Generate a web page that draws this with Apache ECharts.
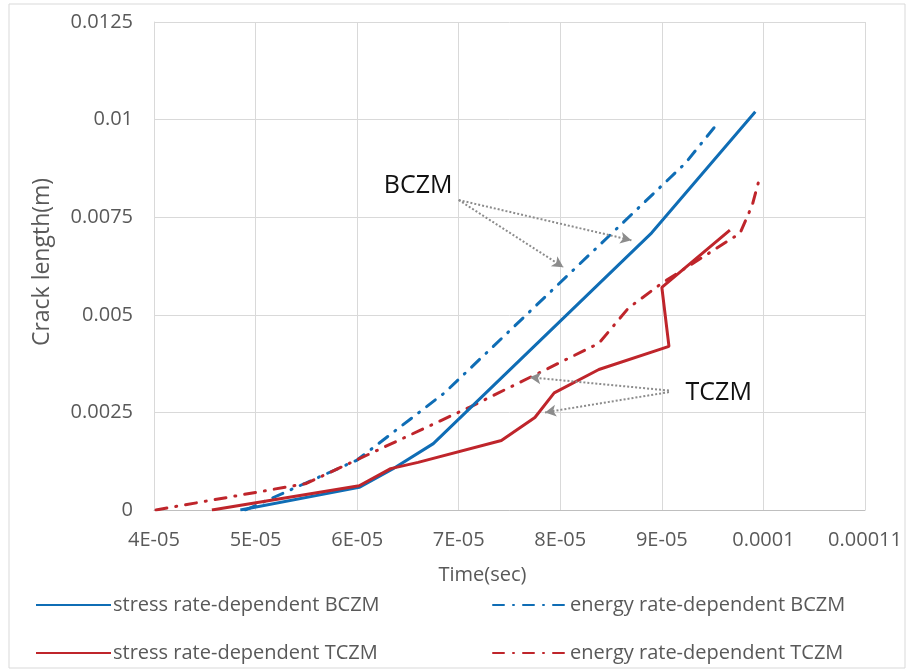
<!DOCTYPE html>
<html>
<head>
<meta charset="utf-8">
<script src="https://cdn.jsdelivr.net/npm/echarts@6/dist/echarts.min.js"></script>
<style>
  html, body { margin: 0; padding: 0; background: #fff; }
  #myChart { width: 912px; height: 672px; }
</style>
</head>
<body>
<div id="myChart"></div>
<script>
// x in seconds, y in metres
let stressBCZM = [[4.85e-5, 0], [6.02e-5, 0.00058], [6.35e-5, 0.00105], [6.75e-5, 0.0017], [8.9e-5, 0.0071], [9.92e-5, 0.0102]];
let energyBCZM = [[4.9e-5, 0], [6.0e-5, 0.00128], [6.86e-5, 0.003], [9.23e-5, 0.00888], [9.56e-5, 0.00994]];
let stressTCZM = [[4.57e-5, 0], [6.02e-5, 0.00062], [6.33e-5, 0.00106], [6.6e-5, 0.00122], [7.42e-5, 0.00178], [7.75e-5, 0.00237],
  [7.94e-5, 0.003], [8.38e-5, 0.0036], [9.07e-5, 0.00419], [9.0e-5, 0.0057], [9.67e-5, 0.00717]];
let energyTCZM = [[4.02e-5, 0], [5.5e-5, 0.00068], [7.12e-5, 0.00265], [8.38e-5, 0.00427], [8.67e-5, 0.00517], [9.0e-5, 0.00581],
  [9.77e-5, 0.00709], [9.89e-5, 0.00781], [9.97e-5, 0.00858]];

let xTickLabels = ['4E-05', '5E-05', '6E-05', '7E-05', '8E-05', '9E-05', '0.0001', '0.00011'];
let yTickLabels = ['0', '0.0025', '0.005', '0.0075', '0.01', '0.0125'];

// annotation arrows: [from, to]
let bczmArrows = [[[7.0e-5, 0.00794], [8.7e-5, 0.00691]], [[7.0e-5, 0.00794], [8.03e-5, 0.00622]]];
let tczmArrows = [[[9.07e-5, 0.00306], [7.7e-5, 0.0034]], [[9.07e-5, 0.00302], [7.85e-5, 0.0025]]];
let noteText = [['BCZM', 6.6e-5, 0.0083], ['TCZM', 9.56e-5, 0.00301]];

let blue = '#0F6DB5', red = '#BF252B';
let txt = '#595959';
let fontFam = '"Open Sans", "Noto Sans", sans-serif';
let dashDot = [11, 9, 1, 9];

let chart = echarts.init(document.getElementById('myChart'));

let arrowLines = bczmArrows.concat(tczmArrows).map(a => [{ coord: a[0] }, { coord: a[1] }]);

// one legend per entry so the 2x2 layout is exact
function legendAt(name, left, top) {
  return {
    left: left, top: top, padding: 0, itemWidth: 75, itemHeight: 14, itemGap: 0,
    itemStyle: { opacity: 0 },
    textStyle: { color: txt, fontSize: 20, fontFamily: fontFam, padding: [0, 0, 0, -3] },
    data: [name]
  };
}

let option = {
  animation: false,
  backgroundColor: '#fff',
  textStyle: { fontFamily: fontFam },
  graphic: [{
    type: 'rect', shape: { x: 9, y: 4, width: 896, height: 664 },
    style: { fill: 'none', stroke: '#D9D9D9', lineWidth: 1 }, silent: true
  }],
  grid: { left: 154, right: 47, top: 22, bottom: 162 },
  xAxis: {
    type: 'value', min: 4e-5, max: 11e-5, interval: 1e-5,
    name: 'Time(sec)', nameLocation: 'middle', nameGap: 55,
    nameTextStyle: { color: txt, fontSize: 20, fontFamily: fontFam, padding: [0, 54, 0, 0] },
    axisLine: { show: true, lineStyle: { color: '#BFBFBF' } },
    axisTick: { show: false },
    splitLine: { show: true, lineStyle: { color: '#D9D9D9' } },
    axisLabel: {
      color: txt, fontSize: 20, margin: 20,
      formatter: v => xTickLabels[Math.round((v - 4e-5) / 1e-5)]
    }
  },
  yAxis: {
    type: 'value', min: 0, max: 0.0125, interval: 0.0025,
    name: 'Crack length(m)', nameLocation: 'middle', nameGap: 100, nameRotate: 90,
    nameTextStyle: { color: txt, fontSize: 23, fontFamily: fontFam, padding: [0, 0, 0, 8] },
    axisLine: { show: true, lineStyle: { color: '#D9D9D9' } },
    axisTick: { show: false },
    splitLine: { show: true, lineStyle: { color: '#D9D9D9' } },
    axisLabel: {
      color: txt, fontSize: 20, margin: 21,
      formatter: v => yTickLabels[Math.round(v / 0.0025)]
    }
  },
  legend: [
    legendAt('stress rate-dependent BCZM', 35, 595),
    legendAt('stress rate-dependent TCZM', 35, 643),
    legendAt('energy rate-dependent BCZM', 492, 595),
    legendAt('energy rate-dependent TCZM', 492, 643)
  ],
  series: [{
    name: 'stress rate-dependent BCZM', type: 'line', data: stressBCZM,
    symbol: 'none', lineStyle: { color: blue, width: 3 }, itemStyle: { color: blue }, z: 3,
    markLine: {
      silent: true, symbol: ['none', 'arrow'], symbolSize: [9, 11],
      lineStyle: { color: '#8C8C8C', width: 2, type: [2, 2] },
      label: { show: false }, data: arrowLines
    },
    markPoint: {
      silent: true,
      data: noteText.map(t => ({
        name: t[0], coord: [t[1], t[2]], symbol: 'rect', symbolSize: 1,
        itemStyle: { color: 'rgba(0,0,0,0)' },
        label: { show: true, position: 'inside', formatter: '{b}', color: '#111', fontSize: 25, fontFamily: fontFam }
      }))
    }
  }, {
    name: 'energy rate-dependent BCZM', type: 'line', data: energyBCZM,
    symbol: 'none', lineStyle: { color: blue, width: 3, type: dashDot, cap: 'round' }, itemStyle: { color: blue }, z: 2
  }, {
    name: 'stress rate-dependent TCZM', type: 'line', data: stressTCZM,
    symbol: 'none', lineStyle: { color: red, width: 3 }, itemStyle: { color: red }, z: 4
  }, {
    name: 'energy rate-dependent TCZM', type: 'line', data: energyTCZM,
    symbol: 'none', lineStyle: { color: red, width: 3, type: dashDot, cap: 'round' }, itemStyle: { color: red }, z: 2
  }]
};

chart.setOption(option);
</script>
</body>
</html>
